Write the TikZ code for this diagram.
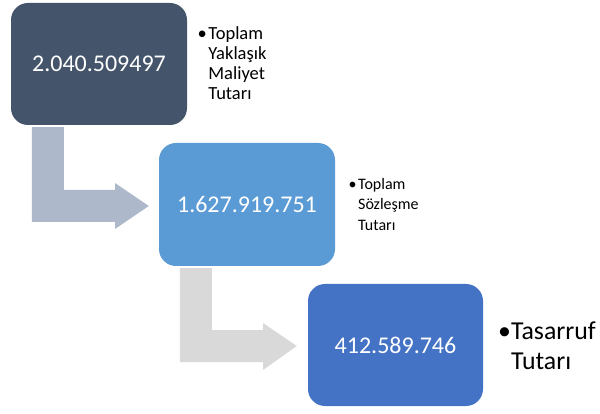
\documentclass[tikz,border=0pt]{standalone}
\usepackage{fontspec}
\setmainfont{Carlito}
\usetikzlibrary{calc}
\definecolor{boxA}{HTML}{44546A}
\definecolor{boxB}{HTML}{5B9BD5}
\definecolor{boxC}{HTML}{4472C4}
\definecolor{arrA}{HTML}{ADB9CA}
\definecolor{arrB}{HTML}{D9D9D9}
\tikzset{
  valbox/.style={rectangle, rounded corners=17pt, inner sep=0pt, text=white,
    font=\fontsize{24}{28}\selectfont},
  lbl/.style={anchor=base west, inner sep=0pt, text=black}
}
\begin{document}
\begin{tikzpicture}[x=1pt,y=-1pt]
\useasboundingbox[fill=white] (0,0) rectangle (600,414);
% boxes
\node[valbox, fill=boxA, minimum width=176pt, minimum height=122pt] (b1) at (99,64) {2.040.509497};
\node[valbox, fill=boxB, minimum width=176pt, minimum height=123pt] (b2) at (247,204.5) {1.627.919.751};
\node[valbox, fill=boxC, minimum width=175pt, minimum height=122pt] (b3) at (395.5,345) {412.589.746};
% bent arrows
\fill[arrA] ($(b1.south west)+(21,2)$) -- ($(b1.south west)+(53,2)$) -- (64,190) -- (115,190) -- (115,183)
  -- ($(b2.west)+(-10,1.5)$) -- (115,229) -- (115,222) -- (32,222) -- cycle;
\fill[arrB] ($(b2.south west)+(21,2)$) -- ($(b2.south west)+(53,2)$) -- (212,330) -- (263,330) -- (263,323)
  -- ($(b3.west)+(-11,1)$) -- (263,370) -- (263,362) -- (180,362) -- cycle;
% labels
\node[lbl] (l1) at (197.5,39.3) {\fontsize{18.5}{20.2}\selectfont
  \begin{tabular}[t]{@{}l@{\hspace{1.5pt}}l@{}}•&Toplam\\&Yaklaşık\\&Maliyet\\&Tutarı\end{tabular}};
\node[lbl] (l2) at (348.5,189.5) {\fontsize{16}{20.5}\selectfont
  \begin{tabular}[t]{@{}l@{\hspace{1.5pt}}l@{}}•&Toplam\\&Sözleşme\\&Tutarı\end{tabular}};
\node[lbl] (l3) at (498,339.5) {\fontsize{25.8}{30}\selectfont
  \begin{tabular}[t]{@{}l@{}l@{}}•&Tasarruf\\&Tutarı\end{tabular}};
\end{tikzpicture}
\end{document}
